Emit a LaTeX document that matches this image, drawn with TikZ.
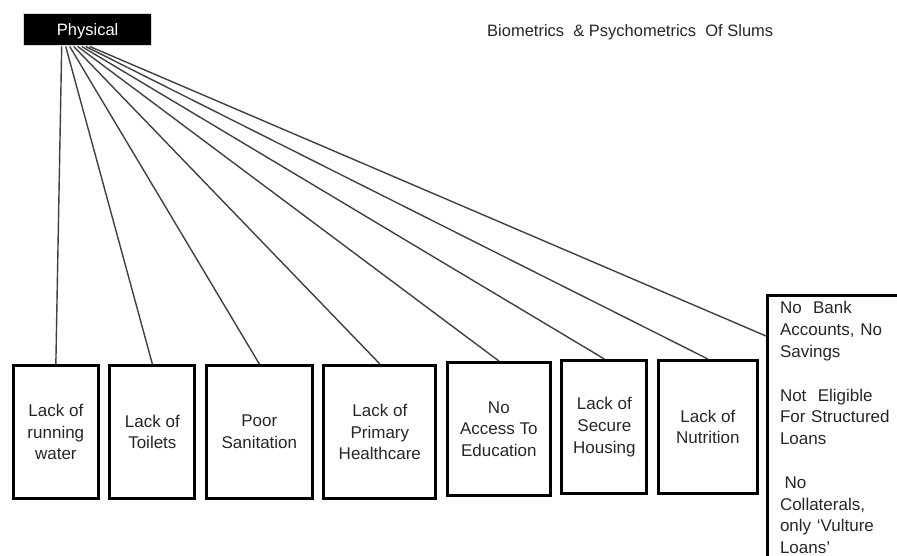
\documentclass[tikz,border=0pt]{standalone}
\usepackage{fontspec}
\setmainfont{Liberation Sans}
\usetikzlibrary{positioning}

\begin{document}
\begin{tikzpicture}[x=1pt, y=1pt, node distance=8.5pt,
  header/.style={rectangle, draw=gray!30, fill=black, line width=1.5pt, minimum width=128pt, minimum height=32pt, text depth=0pt, text=white, font=\fontsize{16.5}{19}\selectfont},
  need/.style={rectangle, draw=black, line width=3pt, minimum height=133pt, align=center, text=black!85, font=\fontsize{17}{21.7}\selectfont},
  finance/.style={rectangle, draw=black, line width=3pt, text width=125pt, align=left, inner xsep=12.5pt, inner ysep=6pt, text=black!85, font=\fontsize{17}{21.8}\selectfont},
  link/.style={draw=black!75, line width=1.4pt}]

  \useasboundingbox (0,0) rectangle (897,556);
  \clip (0,0) rectangle (897,556);

  \node [header] (phys) at (87.7,526.3) {Physical};
  \node [anchor=base west, inner sep=0pt, text=black!85, font=\fontsize{16.5}{19}\selectfont] (title) at (487,519.5) {Biometrics\ \ \& Psychometrics\ \ Of Slums};

  \node [need, minimum width=85pt] (water) at (55.85,124) {Lack of\\running\\water};
  \node [need, minimum width=85pt, right=of water] (toilets) {Lack of\\Toilets};
  \node [need, minimum width=106pt, right=of toilets] (sanitation) {Poor\\Sanitation};
  \node [need, minimum width=112pt, right=of sanitation] (health) {Lack of\\Primary\\Healthcare};
  \node [need, minimum width=103pt, right=of health, yshift=3pt] (education) {No\\Access To\\Education};
  \node [need, minimum width=85pt, right=of education, yshift=2pt] (housing) {Lack of\\Secure\\Housing};
  \node [need, minimum width=99pt, right=of housing] (nutrition) {Lack of\\Nutrition};
  \node [finance, anchor=north west] (money) at (766,262) {No\ \ Bank\\Accounts, No\\Savings\\[\baselineskip]Not\ \ Eligible\\For Structured\\Loans\\[\baselineskip]\hspace*{4.5pt}No\\Collaterals,\\only ‘Vulture\\Loans’};

  % fan of links from the header
  \foreach \i in {1,...,8}
    \coordinate (s\i) at ([xshift={4pt*\i-30pt}]phys.south);
  \coordinate (m) at ([yshift=-42pt]money.north west);

  \path [link] (s1) -- (water.north);
  \path [link] (s2) -- (toilets.north);
  \path [link] (s3) -- (sanitation.north);
  \path [link] (s4) -- (health.north);
  \path [link] (s5) -- (education.north);
  \path [link] (s6) -- (housing.north);
  \path [link] (s7) -- (nutrition.north);
  \path [link] (s8) -- (m);
\end{tikzpicture}
\end{document}
